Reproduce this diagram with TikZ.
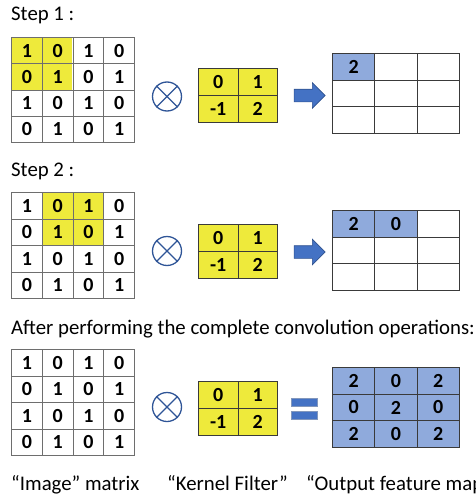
\documentclass[tikz,border=0pt]{standalone}
\usepackage{fontspec}
\setmainfont{Carlito}
\usetikzlibrary{shapes.arrows}
\definecolor{kyellow}{HTML}{EEEA3B}
\definecolor{cblue}{HTML}{8FAADC}
\definecolor{ablue}{HTML}{4472C4}
\definecolor{adark}{HTML}{2F528F}
\definecolor{oblue}{HTML}{2F5597}
\definecolor{gridgray}{HTML}{6E6E6E}
\definecolor{griddark}{HTML}{3A3A3A}
\tikzset{
  cell/.style={draw=gridgray, line width=0.9pt, inner sep=0pt, anchor=north west,
    font=\bfseries\fontsize{20}{20}\selectfont},
  kcell/.style={cell, draw=griddark, fill=kyellow, minimum width=39.5pt, minimum height=27pt},
  ocell/.style={cell, draw=griddark, minimum width=42.33pt, minimum height=26.67pt},
  otimesnode/.style={circle, draw=oblue, line width=1.3pt, minimum size=29pt, inner sep=0pt},
  bigarrow/.style={single arrow, fill=ablue, draw=adark, line width=0.6pt,
    inner xsep=0pt, inner ysep=6pt, text width=0pt,
    minimum height=31pt, single arrow head extend=6.5pt, single arrow tip angle=90},
  eqbar/.style={fill=ablue, draw=adark!60, line width=0.6pt},
  txt/.style={anchor=base west, inner sep=0pt, font=\fontsize{20.8}{21}\selectfont}
}
\newcommand\imgmat[3]{%
  \foreach \r in {1,...,4} {
    \foreach \c in {1,...,4} {
      \pgfmathtruncatemacro\vv{mod(\r+\c+1,2)}
      \node[cell, minimum width=30.75pt, minimum height=#3pt]
        (#1-\r-\c) at ({#2+(\c-1)*30.75},{\csname imgy#1\endcsname+(\r-1)*#3}) {\vv};
    }
  }
}
\newcommand\kernel[3]{%
  \node[kcell] (#1-1-1) at (#2,#3) {0};
  \node[kcell] (#1-1-2) at (#2+39.5,#3) {1};
  \node[kcell] (#1-2-1) at (#2,#3+27) {-1};
  \node[kcell] (#1-2-2) at (#2+39.5,#3+27) {2};
}
\begin{document}
\begin{tikzpicture}[x=1pt,y=-1pt]
\useasboundingbox (0,0) rectangle (475,495);
\clip (0,0) rectangle (475,495);

% ---------- Step 1
\node[txt] (t1) at (11,21) {Step 1 :};
\fill[kyellow] (11,37) rectangle (72,90);
\expandafter\def\csname imgyA\endcsname{37}
\imgmat{A}{11}{26.25}
\node[otimesnode] (ot1) at (167,96.5) {};
\draw[oblue, line width=1.3pt] (ot1.45) -- (ot1.225) (ot1.135) -- (ot1.315);
\kernel{kA}{198}{68}
\node[bigarrow] (ar1) at (306.5,95.5) {};
\foreach \r in {1,2,3} \foreach \c in {1,2,3} {
  \node[ocell] (oA-\r-\c) at ({332+(\c-1)*42.33},{53+(\r-1)*26.67}) {};
}
\node[ocell, fill=cblue] (oA-1-1) at (332,53) {2};

% ---------- Step 2
\node[txt] (t2) at (11,176) {Step 2 :};
\fill[kyellow] (41.75,192) rectangle (103.25,245);
\expandafter\def\csname imgyB\endcsname{192}
\imgmat{B}{11}{26.5}
\node[otimesnode] (ot2) at (167,251) {};
\draw[oblue, line width=1.3pt] (ot2.45) -- (ot2.225) (ot2.135) -- (ot2.315);
\kernel{kB}{198}{224}
\node[bigarrow] (ar2) at (306.5,252) {};
\foreach \r in {1,2,3} \foreach \c in {1,2,3} {
  \node[ocell] (oB-\r-\c) at ({332+(\c-1)*42.33},{210+(\r-1)*26.67}) {};
}
\node[ocell, fill=cblue] (oB-1-1) at (332,210) {2};
\node[ocell, fill=cblue] (oB-1-2) at (374.33,210) {0};

% ---------- Final
\node[txt] (t3) at (11,334) {After performing the complete convolution operations:};
\expandafter\def\csname imgyC\endcsname{349}
\imgmat{C}{11}{26.5}
\node[otimesnode] (ot3) at (167,407) {};
\draw[oblue, line width=1.3pt] (ot3.45) -- (ot3.225) (ot3.135) -- (ot3.315);
\kernel{kC}{198}{381}
\path[eqbar] (291,398) rectangle (317,406);
\path[eqbar] (291,411) rectangle (317,419);
\foreach \r in {1,2,3} \foreach \c in {1,2,3} {
  \pgfmathtruncatemacro\ov{2*mod(\r+\c+1,2)}
  \node[ocell, fill=cblue] (oC-\r-\c) at ({332+(\c-1)*42.33},{367+(\r-1)*26.67}) {\ov};
}

% ---------- Labels
\node[txt] (l1) at (11,490) {“Image” matrix};
\node[txt] (l2) at (167,490) {“Kernel Filter”};
\node[txt] (l3) at (306,490) {“Output feature map”};
\end{tikzpicture}
\end{document}
